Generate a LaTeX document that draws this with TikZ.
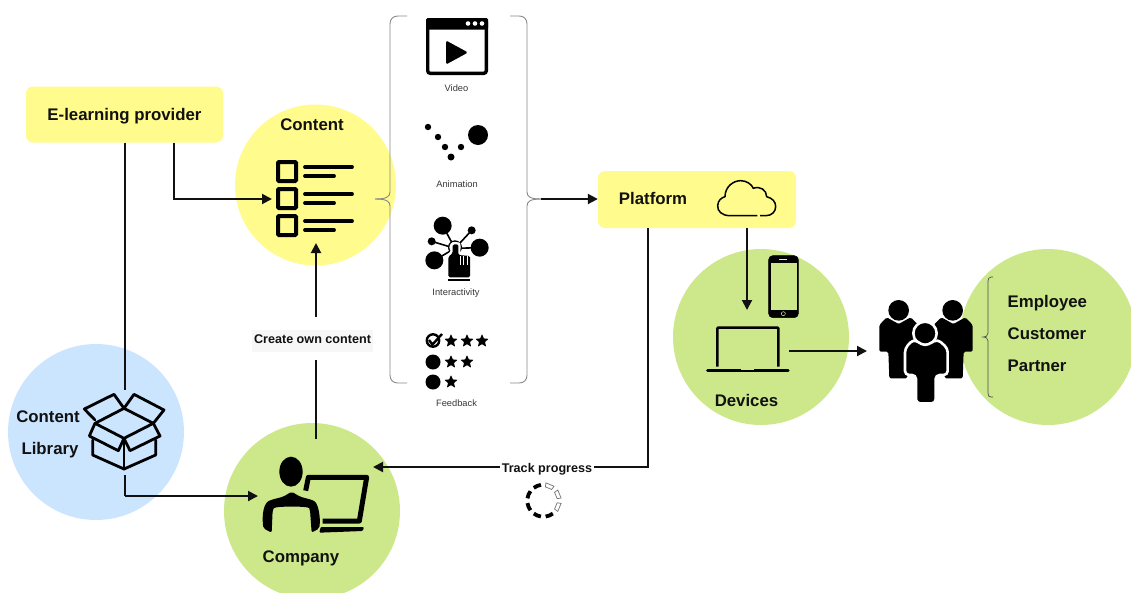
\documentclass[tikz,border=0pt]{standalone}
\usepackage{fontspec}
\setmainfont{Liberation Sans}
\usetikzlibrary{arrows.meta}
\definecolor{ylbox}{HTML}{FFFB8C}
\definecolor{ylcirc}{HTML}{FFFB8C}
\definecolor{blcirc}{HTML}{CCE5FF}
\definecolor{grcirc}{HTML}{CDE88A}
\definecolor{ink}{HTML}{111111}
\definecolor{brk}{HTML}{8A8A8A}
\tikzset{
  zoomed/.style 2 args={shift={(#1,#2)},x=0.33333pt,y=-0.33333pt},
  yellowbox/.style={fill=ylbox,rounded corners=7pt,inner sep=0pt},
  disc/.style={circle,inner sep=0pt,minimum size=#1},
  big/.style={font=\fontsize{16.8}{18}\selectfont\bfseries,text=ink,inner sep=0pt,text height=12pt,text depth=3.5pt,yshift=-1.7pt},
  mid/.style={font=\fontsize{12.6}{14}\selectfont\bfseries,text=ink,inner sep=2pt,text height=9pt,text depth=2.6pt,yshift=-1.2pt},
  tiny/.style={font=\fontsize{9.3}{10}\selectfont,text=black!78,inner sep=0pt},
  link/.style={draw=ink,line width=2pt},
  arrowlink/.style={link,-{Triangle[length=10pt,width=10pt]}},
  brack/.style={draw=brk,line width=.9pt},
  ic/.style={draw=black,line width=2.8pt,line join=round,line cap=round}
}
\newcommand{\mystar}[3]{\fill[black,rounded corners=.6pt] (#1,#2) +(-90:#3) -- +(-54:#3*.45) -- +(-18:#3) -- +(18:#3*.45) -- +(54:#3) -- +(90:#3*.45) -- +(126:#3) -- +(162:#3*.45) -- +(198:#3) -- +(234:#3*.45) -- cycle;}
\begin{document}
\begin{tikzpicture}[x=1pt,y=-1pt]
\useasboundingbox (0,0) rectangle (1131,592);
\clip (0,0) rectangle (1131,592);
\fill[white] (0,0) rectangle (1131,592);
% discs
\node[disc=161pt,fill=ylcirc] (contentdisc) at (315.5,185) {};
\node[disc=176pt,fill=blcirc] (librarydisc) at (96,432) {};
\node[disc=176pt,fill=grcirc] (companydisc) at (312,511) {};
\node[disc=176pt,fill=grcirc] (devicesdisc) at (761,337) {};
\node[disc=176pt,fill=grcirc] (peopledisc) at (1048,337) {};
% boxes
\node[yellowbox,minimum width=197pt,minimum height=56pt] (provider) at (124.5,114.5) {};
\node[big] (providertext) at (124.5,114.5) {E-learning provider};
\node[yellowbox,minimum width=198pt,minimum height=57pt] (platform) at (697,199.5) {};
\node[big] (platformtext) at (653,199) {Platform};
% texts
\node[big] (contenttext) at (312,125) {Content};
\node[big] (libtext1) at (48,417) {Content};
\node[big] (libtext2) at (50,449) {Library};
\node[big] (companytext) at (301,557) {Company};
\node[big] (devicestext) at (746.5,401) {Devices};
\node[big,anchor=west] (employee) at (1007.5,302) {Employee};
\node[big,anchor=west] (customer) at (1007.5,334) {Customer};
\node[big,anchor=west] (partner) at (1007.5,365.5) {Partner};
\node[mid,fill=black!3,minimum height=22pt] (createown) at (312.5,339.5) {Create own content};
\node[mid,fill=white] (track) at (547,468) {Track progress};
\node[tiny] (videotext) at (456.5,88.5) {Video};
\node[tiny] (animtext) at (457,184) {Animation};
\node[tiny] (interacttext) at (456,293.5) {Interactivity};
\node[tiny] (feedbacktext) at (456.5,403) {Feedback};
% brackets
\draw[brack] (407,16) -- (398,16) .. controls (393,16) and (390,19) .. (390,24) -- (390,192) .. controls (390,197) and (386,199) .. (375,199);
\draw[brack] (375,199) .. controls (386,199) and (390,201) .. (390,206) -- (390,375) .. controls (390,380) and (393,383) .. (398,383) -- (407,383);
\draw[brack] (510,16) -- (519,16) .. controls (524,16) and (527,19) .. (527,24) -- (527,192) .. controls (527,197) and (531,199) .. (541,199);
\draw[brack] (541,199) .. controls (531,199) and (527,201) .. (527,206) -- (527,375) .. controls (527,380) and (524,383) .. (519,383) -- (510,383);
\draw[brack,line width=.7pt,draw=black!70] (993,277) -- (991,277) .. controls (989,277) and (988,279) .. (988,281) -- (988,333) .. controls (988,336) and (986,337) .. (982,337) .. controls (986,337) and (988,338) .. (988,341) -- (988,393) .. controls (988,396) and (989,397) .. (991,397) -- (993,397);
% connector ends
\coordinate (boxtop) at (125,390);
\coordinate (boxbottom) at (125,475);
\coordinate (boxbend) at (125,496);
\coordinate (personleft) at (258,496);
\coordinate (provbend) at (174,199);
\coordinate (listleft) at (272,199);
\coordinate (listbottom) at (316,243);
\coordinate (persontop) at (316,439);
\coordinate (labelabove) at (316,317);
\coordinate (labelbelow) at (316,360);
\coordinate (bracenub) at (541,199);
\coordinate (platbend) at (648,467);
\coordinate (companyright) at (373,467);
\coordinate (phoneleft) at (747,310);
\coordinate (laptopright) at (789,351);
\coordinate (peopleleft) at (867,351);
% connectors
\draw[link] (provider.south -| boxtop) -- (boxtop);
\draw[link] (boxbottom) -- (boxbend);
\draw[arrowlink] (boxbend) -- (personleft);
\draw[arrowlink] (provider.south -| provbend) -- (provbend) -- (listleft);
\draw[link] (persontop) -- (labelbelow);
\draw[arrowlink] (labelabove) -- (listbottom);
\draw[arrowlink] (bracenub) -- (platform.west |- bracenub);
\draw[link] (platform.south -| platbend) -- (platbend) -- (track.east |- platbend);
\draw[arrowlink] (track.west |- platbend) -- (companyright);
\draw[arrowlink] (platform.south -| phoneleft) -- (phoneleft);
\draw[arrowlink] (laptopright) -- (peopleleft);
% list icon
\foreach \yy in {161,188,215}{
  \draw[black,line width=4pt,rounded corners=1pt] (278,\yy+1) rectangle (296,\yy+20);
  \draw[black,line width=3.8pt,line cap=round] (305,\yy+6) -- (352,\yy+6);
  \draw[black,line width=3.8pt,line cap=round] (305,\yy+15) -- (334,\yy+15);
}
% video icon
\draw[black,line width=3.4pt,rounded corners=2.5pt] (427.7,19.7) rectangle (486.3,73.3);
\fill[black,rounded corners=1.5pt] (426,18) rectangle (488,29.5);
\fill[white] (468,23.5) circle (2.3) (475,23.5) circle (2.3) (482,23.5) circle (2.3);
\fill[black,rounded corners=1.5pt] (446,40.5) -- (468,52.5) -- (446,64.5) -- cycle;
% animation icon
\fill[black] (428,127) circle (3.2) (438,137) circle (3.2) (445,147) circle (3.2) (451,157) circle (3.5) (461,147) circle (3.2) (478,135) circle (10);
% interactivity icon
\begin{scope}[zoomed={380}{200}]
  \draw[black,line width=1.6pt] (225,145) -- (188,77) (225,145) -- (275,91) (225,145) -- (155,124) (225,145) -- (299,143) (225,145) -- (163,181);
  \fill[black] (188,77) circle (27) (275,91) circle (12) (155,124) circle (12) (299,143) circle (27) (163,181) circle (27);
  \draw[black,line width=1.3pt,fill=white] (225,142) circle (19);
  \fill[white,rounded corners=1.5pt] (199,238) -- (199,165) -- (212,155) -- (212,127) -- (241,127) -- (241,160) -- (276,162) -- (276,238) -- cycle;
  \fill[black,rounded corners=1.5pt] (205,232) -- (205,170) -- (218,160) -- (218,133) -- (235,133) -- (235,165) -- (270,168) -- (270,232) -- cycle;
  \draw[white,line width=.9pt] (240,195) -- (240,167) (251,195) -- (251,167) (261,195) -- (261,167);
  \fill[black] (205,236) rectangle (270,243);
\end{scope}
% feedback icon
\draw[black,line width=2.4pt] (433,340.5) circle (6.2);
\draw[black,line width=2.4pt] (429,340) -- (432.5,344.5) -- (442,334);
\mystar{451}{341}{7}\mystar{467}{341}{7}\mystar{482}{341}{7}
\fill[black] (433,362) circle (7.5);
\mystar{451}{362}{7}\mystar{467}{362}{7}
\fill[black] (433,382) circle (7.5);
\mystar{451}{382}{7}
% cloud icon
\begin{scope}[zoomed={590}{165}]
  \draw[black,line width=1.5pt,line join=round] (420,152) .. controls (395,152) and (382,138) .. (383,122) .. controls (384,105) and (395,98) .. (405,95) .. controls (405,65) and (430,47) .. (452,47) .. controls (470,47) and (485,58) .. (490,70) .. controls (510,62) and (530,75) .. (530,95) .. controls (548,100) and (557,110) .. (557,125) .. controls (557,140) and (545,152) .. (528,152) -- (510,152) (502,152) -- (420,152);
\end{scope}
% box icon
\begin{scope}[zoomed={0}{340}]
  \draw[ic] (372,205) -- (460,250) -- (372,295) -- (285,250) -- cycle;
  \draw[ic] (285,240) -- (253,207) -- (342,163) -- (372,205);
  \draw[ic] (372,205) -- (402,163) -- (492,210) -- (460,250);
  \draw[ic] (285,250) -- (268,288) -- (355,332) -- (372,295);
  \draw[ic] (460,250) -- (480,288) -- (390,332) -- (372,295);
  \draw[ic] (278,300) -- (278,345) -- (372,387) -- (467,345) -- (467,300);
  \draw[ic] (372,295) -- (372,387);
\end{scope}
% person with laptop
\begin{scope}[zoomed={0}{340}]
  \fill[black] (873,395) ellipse [x radius=35,y radius=45];
  \fill[black,rounded corners=2pt] (790,565) .. controls (785,520) and (792,490) .. (812,480) -- (850,470) -- (875,455) -- (900,470) -- (937,480) .. controls (955,490) and (962,530) .. (958,565) -- (935,578) -- (930,510) .. controls (925,498) and (825,498) .. (818,510) -- (815,578) -- cycle;
  \draw[black,line width=5pt,line join=round] (917,452) -- (925,412) -- (1100,412) -- (1078,543) -- (968,543);
  \fill[black,rounded corners=1pt] (962,561) -- (1092,561) -- (1088,573) -- (958,578) -- cycle;
\end{scope}
% phone and laptop
\begin{scope}[zoomed={670}{240}]
  \draw[black,fill=black,rounded corners=4pt] (296,47) rectangle (385,233);
  \fill[grcirc] (303,70) rectangle (380,210);
  \fill[grcirc!70] (328,57) rectangle (352,60);
  \draw[grcirc!70,line width=.5pt] (340,221) circle (6);
  \draw[black,line width=2.6pt,rounded corners=1pt] (142,380) -- (142,263) -- (325,263) -- (325,380);
  \draw[black,line width=3.4pt,line cap=round] (113,392) -- (354,392);
  \fill[grcirc] (212,386) rectangle (252,390);
\end{scope}
% people
\begin{scope}[zoomed={670}{240}]
  \fill[black] (686,211) circle (31) (848,211) circle (31);
  \fill[black,rounded corners=1.5pt] (628,335) -- (628,255) -- (650,232) -- (686,252) -- (722,232) -- (745,255) -- (745,335) -- (712,335) -- (712,415) -- (658,415) -- (655,335) -- cycle;
  \fill[black,rounded corners=1.5pt] (908,335) -- (908,255) -- (886,232) -- (850,252) -- (814,232) -- (791,255) -- (791,335) -- (824,335) -- (824,415) -- (878,415) -- (881,335) -- cycle;
  \draw[white,line width=2.6pt,fill=black] (765,280) circle (35);
  \draw[white,line width=2.6pt,fill=black,rounded corners=4pt] (705,405) -- (705,325) -- (730,298) -- (765,318) -- (803,298) -- (833,325) -- (833,405) -- (797,405) -- (797,490) -- (738,490) -- (738,405) -- cycle;
\end{scope}
% progress ring
\coordinate (ringc) at (543.3,500.7);
\foreach \a in {67.5,112.5,157.5,202.5,247.5}{
  \draw[black,line width=3.8pt] (ringc) ++(\a-14:16) arc [start angle=\a-14,end angle=\a+14,radius=16];
}
\foreach \a in {-67.5,-22.5,22.5}{
  \draw[black!55,line width=.7pt,fill=white] (ringc) +(\a-14:14) -- +(\a+14:14) -- +(\a+14:18) -- +(\a-14:18) -- cycle;
}
\end{tikzpicture}
\end{document}
